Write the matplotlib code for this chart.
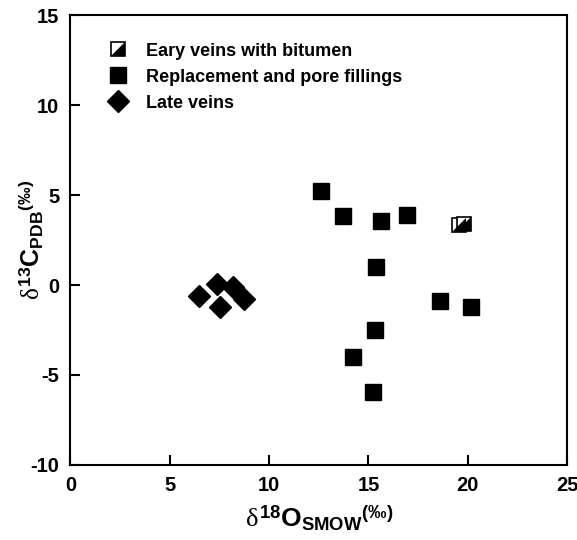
import matplotlib.pyplot as plt
from matplotlib.legend_handler import HandlerTuple
from matplotlib.path import Path

plt.rcParams['font.family'] = ['Liberation Sans', 'DejaVu Sans']
plt.rcParams['font.weight'] = 'bold'
plt.rcParams['axes.unicode_minus'] = False
plt.rcParams['mathtext.fontset'] = 'custom'
plt.rcParams['mathtext.rm'] = 'Liberation Sans:bold'
plt.rcParams['mathtext.bf'] = 'Liberation Sans:bold'
plt.rcParams['mathtext.it'] = 'Liberation Serif:normal'

# early veins with bitumen (half filled squares)
early_x = [19.55, 19.8]
early_y = [3.35, 3.38]

# replacement and pore fillings
repl_x = [12.6, 13.7, 15.65, 16.95, 15.4, 18.6, 20.15, 15.35, 14.2, 15.25]
repl_y = [5.2, 3.85, 3.55, 3.9, 1.0, -0.9, -1.2, -2.5, -4.0, -5.95]

# late veins
late_x = [6.45, 7.4, 8.2, 8.75, 7.55]
late_y = [-0.6, 0.05, -0.1, -0.8, -1.2]

xticks = [0, 5, 10, 15, 20, 25]
yticks = [-10, -5, 0, 5, 10, 15]

fig = plt.figure(figsize=(5.77, 5.4), dpi=100)
ax = fig.add_axes([0.122, 0.139, 0.861, 0.833])

# lower-right filled triangle for the half-filled square
tri = Path([(1, 1), (1, -1), (-1, -1), (1, 1)], closed=True)

sq_open, = ax.plot(early_x, early_y, 's', ms=10, mfc='white', mec='black', mew=1.2, ls='none')
sq_half, = ax.plot(early_x, early_y, marker=tri, ms=10, color='black', mew=0, ls='none')
sq, = ax.plot(repl_x, repl_y, 's', ms=11, color='black', ls='none')
dia, = ax.plot(late_x, late_y, 'D', ms=11, color='black', ls='none')

ax.legend([(sq_open, sq_half), sq, dia],
          ['Eary veins with bitumen', 'Replacement and pore fillings', 'Late veins'],
          handler_map={tuple: HandlerTuple(ndivide=1)},
          loc='upper left', bbox_to_anchor=(0.045, 0.975), frameon=False,
          prop={'weight': 'bold', 'size': 13},
          handlelength=1.0, handletextpad=1.05, labelspacing=0.5)

ax.set_xlim(0, 25)
ax.set_ylim(-10, 15)
ax.set_xticks(xticks)
ax.set_yticks(yticks)
ax.tick_params(direction='in', length=7, width=1.5, labelsize=14.5, pad=8)
for lab in ax.get_xticklabels() + ax.get_yticklabels():
    lab.set_fontweight('bold')
for s in ax.spines.values():
    s.set_linewidth(1.5)

ax.set_xlabel(r'$\delta^{\mathrm{18}}\mathrm{O}_{\mathrm{SMOW}}{}^{\mathrm{(‰)}}$', fontsize=19, labelpad=6)
ax.set_ylabel(r'$\delta^{\mathrm{13}}\mathrm{C}_{\mathrm{PDB}}{}^{\mathrm{(‰)}}$', fontsize=18)
ax.yaxis.set_label_coords(-0.05, 0.5)

fig.savefig('out.png', dpi=100)
